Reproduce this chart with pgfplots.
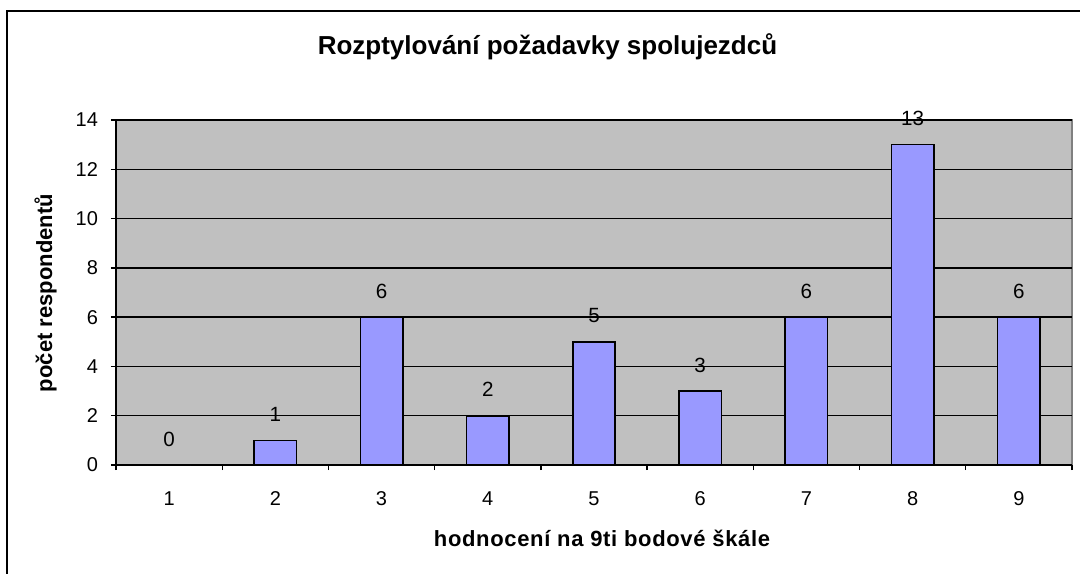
\documentclass[border=0pt]{standalone}
\usepackage{pgfplots}
\pgfplotsset{compat=1.18}
\usepackage{fontspec}
\setmainfont{Liberation Sans}
\newfontfamily\lsfont[LetterSpace=3]{Liberation Sans}
\definecolor{plotgray}{HTML}{C0C0C0}
\definecolor{barblue}{HTML}{9999FF}
\definecolor{bordgray}{HTML}{808080}
\begin{document}
\begin{tikzpicture}
\useasboundingbox (0,0) rectangle (540pt,286.5pt);
\draw[line width=1pt] (3.5pt,-2pt) -- (3.5pt,281pt) -- (542pt,281pt);
\begin{axis}[
  at={(58pt,54pt)}, anchor=south west,
  scale only axis, width=478pt, height=172.5pt,
  xmin=0.5, xmax=9.5, ymin=0, ymax=14,
  xtick={1,...,9}, major x tick style={draw=none},
  minor xtick={0.5,1.5,...,9.5},
  ytick={0,2,...,14},
  tick align=outside, major tick length=2.5pt, minor tick length=2.5pt,
  tick style={black, line width=0.7pt},
  axis x line*=bottom, axis y line*=left,
  axis line style={black, line width=0.9pt, -},
  axis background/.style={fill=plotgray, draw=bordgray, line width=0.9pt},
  ymajorgrids, grid style={black, line width=0.7pt},
  ticklabel style={font=\fontsize{10}{12}\selectfont},
  /pgf/number format/assume math mode=true,
  xticklabel style={anchor=base, yshift=-17.5pt},
  yticklabel style={xshift=-3pt},
  ybar, bar width=0.4,
  nodes near coords,
  every node near coord/.append style={font=\fontsize{10.3}{12}\selectfont, anchor=base, inner sep=0pt, yshift=9.5pt, black},
  clip=false,
]
\addplot[fill=barblue, draw=black, line width=0.8pt] coordinates {
(1,0) (2,1) (3,6) (4,2) (5,5) (6,3) (7,6) (8,13) (9,6)
};
\end{axis}
\node[font=\bfseries\fontsize{13}{15}\selectfont] at (273.75pt,263pt) {Rozptylování požadavky spolujezdců};
\node[font=\lsfont\bfseries\fontsize{11}{13}\selectfont] at (301pt,17.5pt) {hodnocení na 9ti bodové škále};
\node[font=\bfseries\fontsize{11}{13}\selectfont, rotate=90] at (22.75pt,140pt) {počet respondentů};
\end{tikzpicture}
\end{document}
